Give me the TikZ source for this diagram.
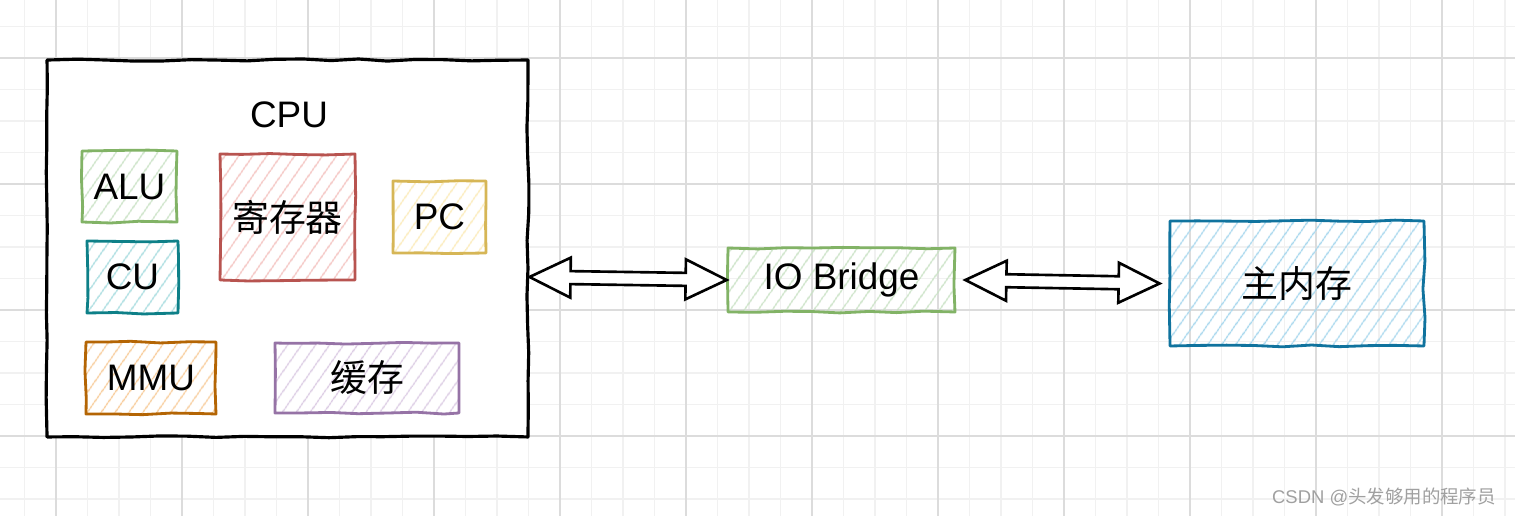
\documentclass[tikz,border=0pt]{standalone}
\usepackage{fontspec}
\setmainfont{Liberation Sans}
\newfontfamily\cjk{Noto Sans CJK SC}
\usetikzlibrary{calc, patterns.meta, decorations.pathmorphing}
\pgfmathsetseed{7}

\definecolor{gridmajor}{HTML}{DCDCDC}
\definecolor{gridminor}{HTML}{F1F1F1}
\definecolor{greenline}{HTML}{82B366}
\definecolor{greenfill}{HTML}{C9E2C4}
\definecolor{redline}{HTML}{B85450}
\definecolor{redfill}{HTML}{F4C2BF}
\definecolor{yellowline}{HTML}{D6B656}
\definecolor{yellowfill}{HTML}{FCEBB8}
\definecolor{tealline}{HTML}{0E8088}
\definecolor{tealfill}{HTML}{A6DCDF}
\definecolor{orangeline}{HTML}{B46504}
\definecolor{orangefill}{HTML}{F8CD9C}
\definecolor{purpleline}{HTML}{9673A6}
\definecolor{purplefill}{HTML}{DCCCE4}
\definecolor{blueline}{HTML}{10739E}
\definecolor{bluefill}{HTML}{A9D8EE}
\definecolor{markgray}{HTML}{A0A0A0}

\tikzstyle{minorline} = [draw=gridminor, line width=0.6pt]
\tikzstyle{majorline} = [draw=gridmajor, line width=0.6pt]
\tikzstyle{sketch} = [rectangle, draw, line width=1.6pt, line join=round, decorate, decoration={random steps, segment length=16pt, amplitude=0.6pt}, font=\fontsize{21}{25}\selectfont, text centered]
\tikzstyle{hatched} = [sketch, pattern={Lines[angle=55, distance=6.5pt, line width=0.8pt]}]
\tikzstyle{blockarrow} = [draw=black, fill=white, line width=1.5pt, line join=miter,
    to path={let \p1=($(\tikztostart)!0.82cm!(\tikztotarget)$), \p2=($(\tikztotarget)!0.82cm!(\tikztostart)$) in
    (\tikztostart) -- ($(\p1)!0.4cm!90:(\p2)$) -- ($(\p1)!0.13cm!90:(\p2)$) -- ($(\p2)!0.13cm!-90:(\p1)$)
    -- ($(\p2)!0.4cm!-90:(\p1)$) -- (\tikztotarget) -- ($(\p2)!0.4cm!90:(\p1)$) -- ($(\p2)!0.13cm!90:(\p1)$)
    -- ($(\p1)!0.13cm!-90:(\p2)$) -- ($(\p1)!0.4cm!-90:(\p2)$) -- cycle}]

\begin{document}
\begin{tikzpicture}[x=0.02cm, y=-0.02cm]
    \useasboundingbox (0,0) rectangle (1515,516);
    \fill[white] (0,0) rectangle (1515,516);

    % Grid
    \foreach \i in {0,...,47} \draw[minorline] ({24.5+31.5*\i},0) -- ++(0,516);
    \foreach \j in {0,...,15} \draw[minorline] (0,{26.5+31.5*\j}) -- ++(1515,0);
    \foreach \i in {0,...,11} \draw[majorline] ({56+126*\i},0) -- ++(0,516);
    \foreach \j in {0,...,3} \draw[majorline] (0,{58+126*\j}) -- ++(1515,0);

    % Nodes
    \node (cpu) [sketch, draw=black, line width=1.8pt, fill=white, minimum width=9.62cm, minimum height=7.54cm] at (287.5,248.5) {};
    \node (cpulabel) [font=\fontsize{21}{25}\selectfont] at (289,115) {CPU};

    \node (alu) [hatched, draw=greenline, pattern color=greenfill, minimum width=1.9cm, minimum height=1.42cm] at (129.5,186.5) {ALU};
    \node (reg) [hatched, draw=redline, pattern color=redfill, minimum width=2.7cm, minimum height=2.52cm] at (287.5,217) {\cjk 寄存器};
    \node (pc) [hatched, draw=yellowline, pattern color=yellowfill, minimum width=1.86cm, minimum height=1.44cm] at (439.5,217) {PC};
    \node (cu) [hatched, draw=tealline, pattern color=tealfill, minimum width=1.82cm, minimum height=1.44cm] at (132.5,277) {CU};
    \node (mmu) [hatched, draw=orangeline, pattern color=orangefill, minimum width=2.6cm, minimum height=1.44cm] at (151,378) {MMU};
    \node (cache) [hatched, draw=purpleline, pattern color=purplefill, minimum width=3.68cm, minimum height=1.4cm] at (367,378) {\cjk 缓存};

    \node (bridge) [hatched, draw=greenline, pattern color=greenfill, minimum width=4.54cm, minimum height=1.28cm] at (841.5,280) {IO Bridge};
    \node (mem) [hatched, draw=blueline, pattern color=bluefill, minimum width=5.08cm, minimum height=2.5cm] at (1297,283.5) {\cjk 主内存};

    \draw [blockarrow] ([yshift=-0.57cm]cpu.east) to (bridge.west);
    \draw [blockarrow] ([xshift=0.18cm]bridge.east) to ([xshift=-0.18cm]mem.west);

    \node (mark) [text=markgray, font=\fontsize{10.5}{12}\selectfont] at (1384,497) {CSDN @{\cjk 头发够用的程序员}};
\end{tikzpicture}
\end{document}
